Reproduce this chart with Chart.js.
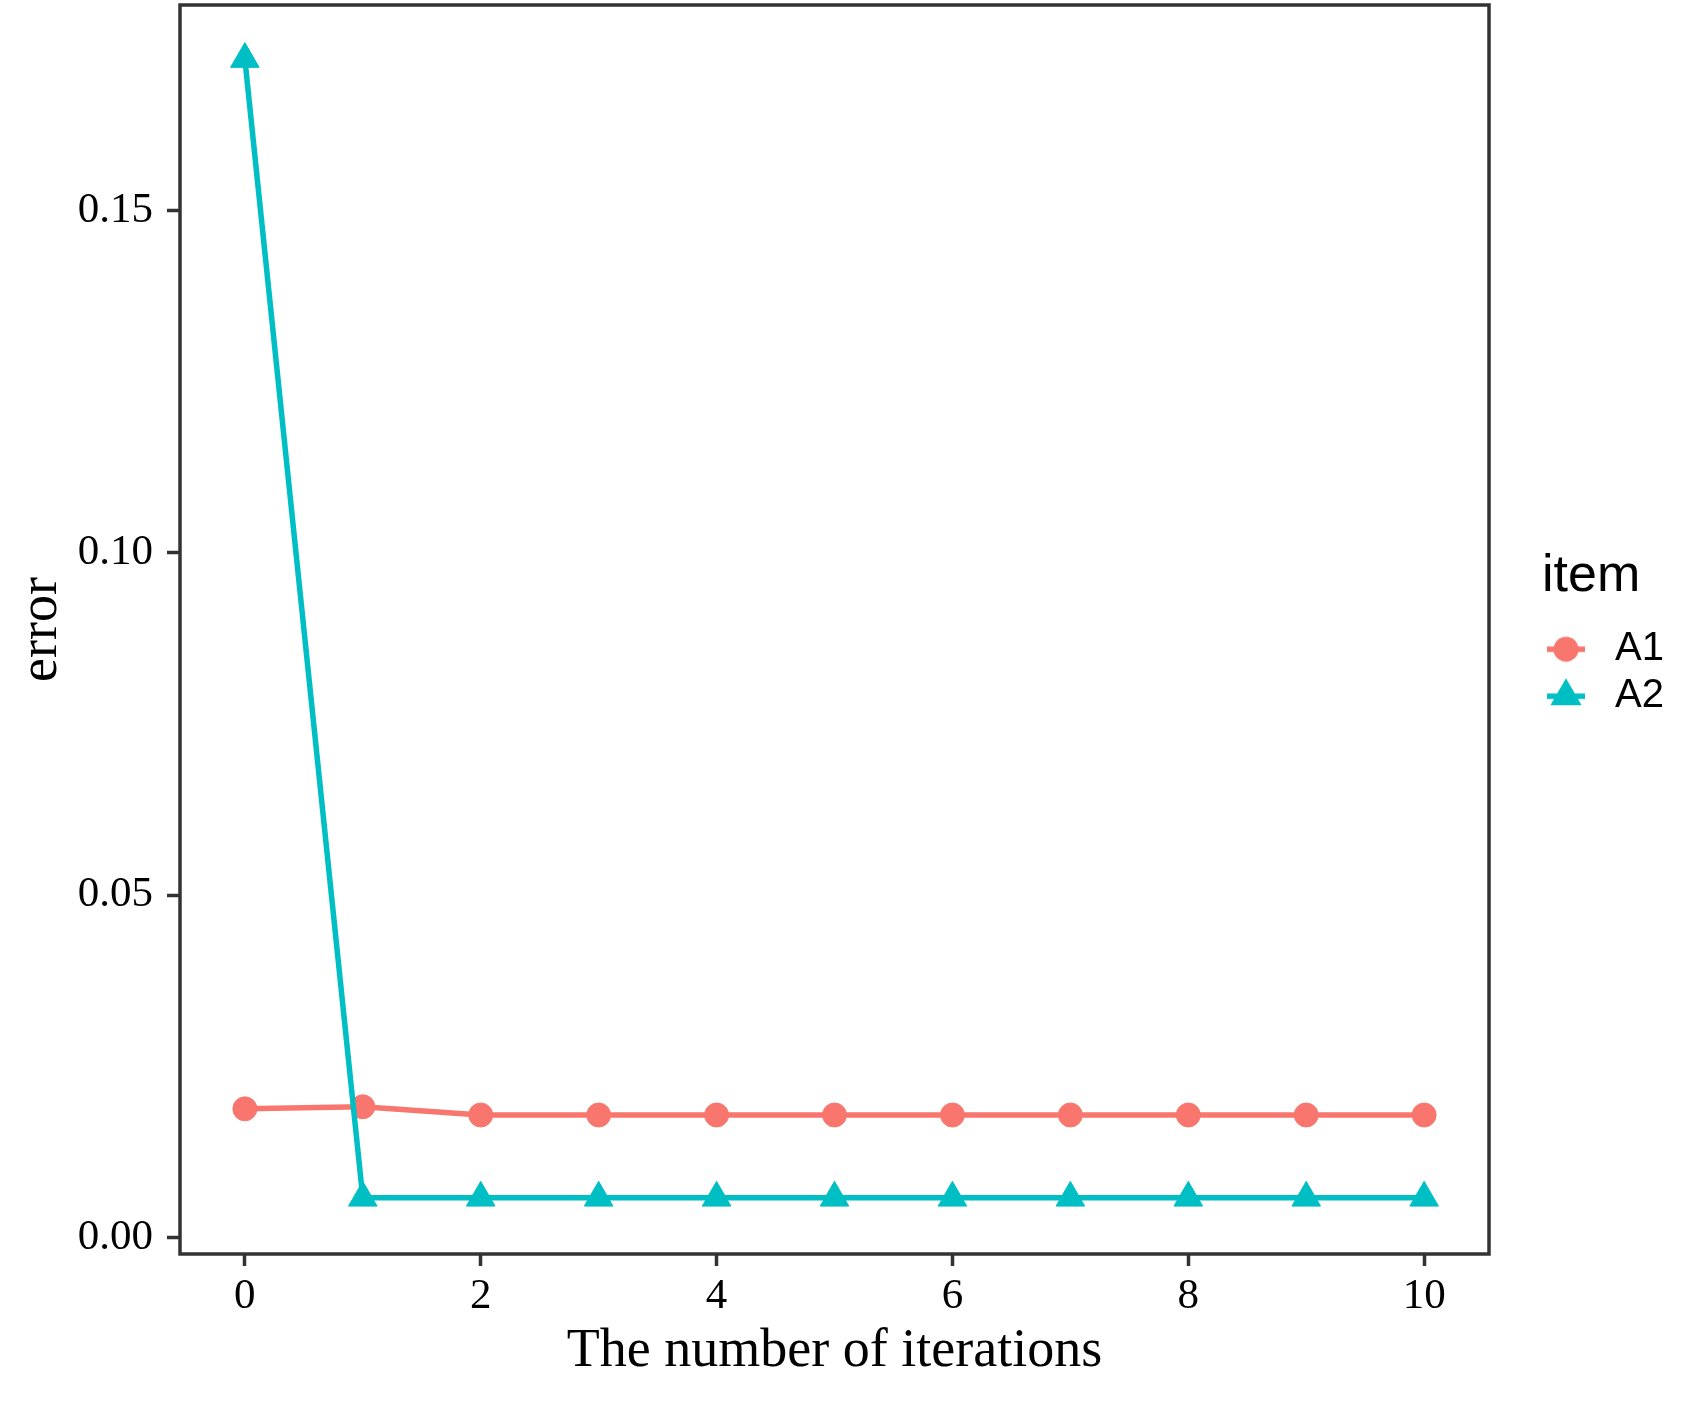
<!DOCTYPE html>
<html>
<head>
<meta charset="utf-8">
<title>error vs number of iterations</title>
<script src="https://cdn.jsdelivr.net/npm/chart.js@4.4.1/dist/chart.umd.min.js"></script>
<style>
  html, body { margin: 0; padding: 0; background: #fff; }
  canvas { display: block; }
</style>
</head>
<body>
<canvas id="chart" width="1691" height="1406"></canvas>
<script>
// values
const iterations = [0, 1, 2, 3, 4, 5, 6, 7, 8, 9, 10];
const a1Error = [0.0188, 0.0191, 0.0179, 0.0179, 0.0179, 0.0179, 0.0179, 0.0179, 0.0179, 0.0179, 0.0179];
const a2Error = [0.1721, 0.0058, 0.0058, 0.0058, 0.0058, 0.0058, 0.0058, 0.0058, 0.0058, 0.0058, 0.0058];
const seriesNames = ['A1', 'A2'];
const xTicks = [0, 2, 4, 6, 8, 10];
const yTicks = [0, 0.05, 0.10, 0.15];

const colors = ['#F8766D', '#00BFC4'];
const ink = '#333333';

// legend key: short line with the marker on it (like ggplot)
function keyGlyph(color, shape) {
    const c = document.createElement('canvas');
    c.width = 58;
    c.height = 40;
    const g = c.getContext('2d');
    const cx = 23, cy = 20;
    g.strokeStyle = color;
    g.fillStyle = color;
    g.lineWidth = 5.5;
    g.beginPath();
    g.moveTo(cx - 19, cy);
    g.lineTo(cx + 19, cy);
    g.stroke();
    g.beginPath();
    if (shape === 'circle') {
        g.arc(cx, cy, 12.5, 0, Math.PI * 2);
    } else {
        const r = 18;
        g.moveTo(cx, cy - r);
        g.lineTo(cx + r * 0.866, cy + r / 2);
        g.lineTo(cx - r * 0.866, cy + r / 2);
        g.closePath();
    }
    g.fill();
    return c;
}
const glyphs = [keyGlyph(colors[0], 'circle'), keyGlyph(colors[1], 'triangle')];

const toPoints = (ys) => iterations.map((x, i) => ({ x: x, y: ys[i] }));

// panel border on all four sides, legend pushed off the panel
const framePlugin = {
    id: 'frame',
    afterLayout(chart) {
        const lg = chart.legend;
        lg.left = chart.chartArea.right + 53;
        lg.right = chart.width;
        lg.width = lg.right - lg.left;
    },
    afterDraw(chart) {
        const { ctx, chartArea: a } = chart;
        ctx.save();
        ctx.strokeStyle = ink;
        ctx.lineWidth = 3.5;
        ctx.strokeRect(a.left, a.top, a.right - a.left, a.bottom - a.top);
        ctx.restore();
    }
};

Chart.defaults.font.family = "'Liberation Serif', 'Times New Roman', serif";
Chart.defaults.color = '#000';

new Chart(document.getElementById('chart'), {
    type: 'line',
    data: {
        datasets: [
            {
                label: seriesNames[0],
                data: toPoints(a1Error),
                borderColor: colors[0],
                backgroundColor: colors[0],
                borderWidth: 5.5,
                pointStyle: 'circle',
                pointRadius: 12,
                pointBorderWidth: 1,
                tension: 0,
                order: 1
            },
            {
                label: seriesNames[1],
                data: toPoints(a2Error),
                borderColor: colors[1],
                backgroundColor: colors[1],
                borderWidth: 5.5,
                pointStyle: 'triangle',
                pointRadius: 16.5,
                pointBorderWidth: 1,
                tension: 0,
                order: 0
            }
        ]
    },
    options: {
        responsive: false,
        devicePixelRatio: 1,
        animation: false,
        events: [],
        layout: { autoPadding: false, padding: { top: 5, left: 0, bottom: 0, right: 92 } },
        scales: {
            x: {
                type: 'linear',
                min: -0.55,
                max: 10.55,
                afterBuildTicks: (scale) => { scale.ticks = xTicks.map(v => ({ value: v })); },
                afterFit: (scale) => {
                    scale.height = 152;
                    scale.paddingLeft = 0;
                    scale.paddingRight = 0;
                },
                border: { display: false },
                grid: { drawOnChartArea: false, drawTicks: true, tickLength: 12, tickWidth: 3.5, tickColor: ink },
                ticks: { padding: 5, maxRotation: 0, font: { size: 43 }, color: '#000', callback: (v) => String(v) },
                title: {
                    display: true,
                    text: 'The number of iterations',
                    font: { size: 54, lineHeight: 1.2 },
                    color: '#000',
                    padding: { top: 0, bottom: 22 }
                }
            },
            y: {
                min: -0.0024,
                max: 0.18,
                afterBuildTicks: (scale) => { scale.ticks = yTicks.map(v => ({ value: v })); },
                afterFit: (scale) => {
                    scale.width = 180;
                    scale.paddingTop = 0;
                    scale.paddingBottom = 0;
                },
                border: { display: false },
                grid: { drawOnChartArea: false, drawTicks: true, tickLength: 13, tickWidth: 3.5, tickColor: ink },
                ticks: { padding: 14, font: { size: 43 }, color: '#000', callback: (v) => v.toFixed(2) },
                title: {
                    display: true,
                    text: 'error',
                    font: { size: 54, lineHeight: 1.2 },
                    color: '#000',
                    padding: { top: 9, bottom: 0 }
                }
            }
        },
        plugins: {
            tooltip: { enabled: false },
            legend: {
                position: 'right',
                fullSize: false,
                maxWidth: 110,
                title: {
                    display: true,
                    text: 'item',
                    position: 'start',
                    color: '#000',
                    font: { family: "'Liberation Sans', Arial, sans-serif", size: 52, lineHeight: 1.2 },
                    padding: { top: 15, bottom: 9 }
                },
                labels: {
                    usePointStyle: true,
                    pointStyleWidth: 46,
                    padding: 7,
                    color: '#000',
                    font: { family: "'Liberation Sans', Arial, sans-serif", size: 40 },
                    generateLabels(chart) {
                        const items = Chart.defaults.plugins.legend.labels.generateLabels(chart);
                        items.sort((a, b) => a.datasetIndex - b.datasetIndex);
                        items.forEach(it => { it.pointStyle = glyphs[it.datasetIndex]; });
                        return items;
                    }
                }
            }
        }
    },
    plugins: [framePlugin]
});
</script>
</body>
</html>
